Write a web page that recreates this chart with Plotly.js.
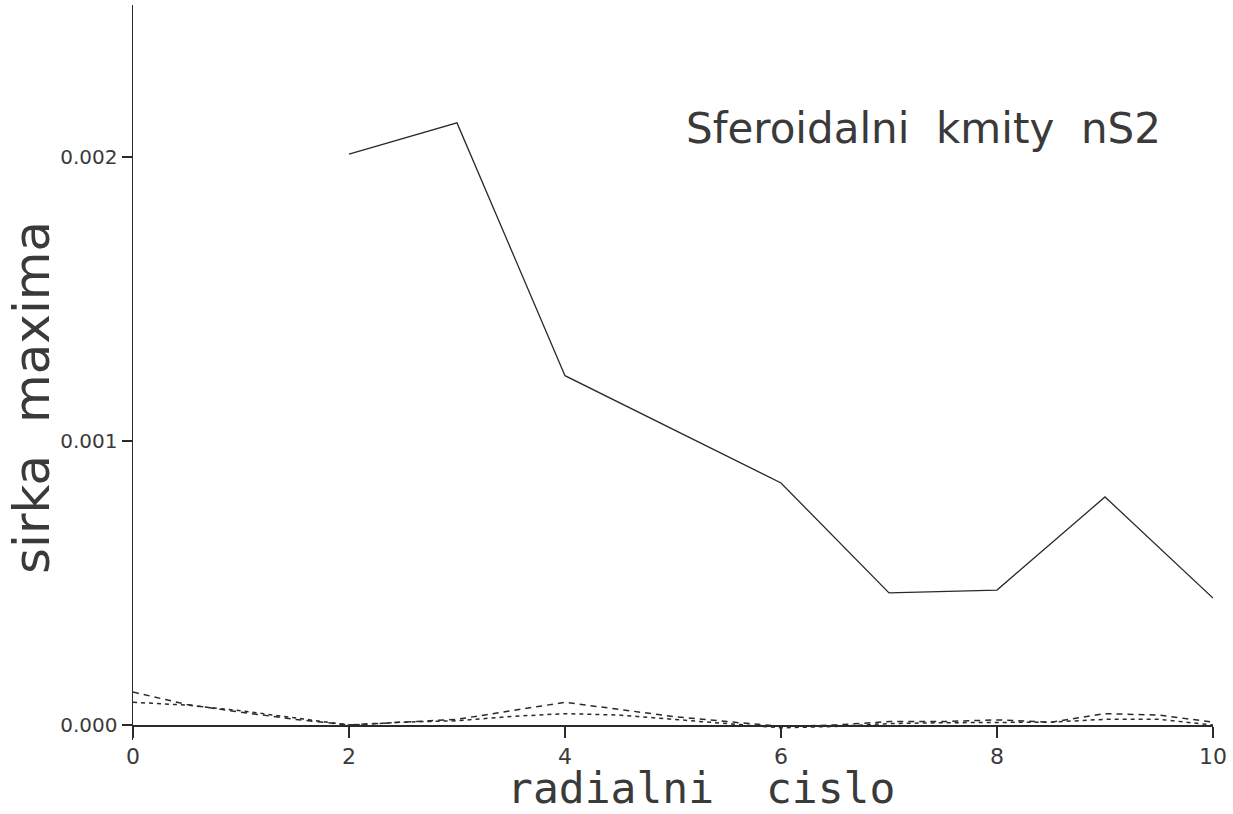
<!DOCTYPE html>
<html>
<head>
<meta charset="utf-8">
<script src="https://cdn.plot.ly/plotly-3.0.1.min.js"></script>
<style>
  html, body { margin: 0; padding: 0; background: #fff; }
  #chart { width: 1233px; height: 814px; }
</style>
</head>
<body>
<div id="chart"></div>
<script>
// Spheroidal modes nS2: width of the maximum versus radial number
const radialN = [2, 3, 4, 5, 6, 7, 8, 9, 10];
const maxWidth = [0.00201, 0.00212, 0.00123, 0.00104, 0.000852, 0.000465, 0.000475, 0.000803, 0.000447];

// Two small companion series, sampled on half steps
const fineN = [0, 0.5, 1, 1.5, 2, 2.5, 3, 3.5, 4, 4.5, 5, 5.5, 6, 6.5, 7, 7.5, 8, 8.5, 9, 9.5, 10];
const seriesA = [0.000116, 0.000072, 0.000045, 0.000020, 0.000000, 0.000010, 0.000020, 0.000050, 0.000080,
                 0.000055, 0.000030, 0.000012, -0.000005, 0.000000, 0.000012, 0.000012, 0.000018, 0.000010,
                 0.000040, 0.000035, 0.000010];
const seriesB = [0.000080, 0.000070, 0.000050, 0.000025, 0.000000, 0.000010, 0.000015, 0.000030, 0.000040,
                 0.000035, 0.000020, 0.000005, -0.000010, -0.000005, 0.000005, 0.000008, 0.000010, 0.000010,
                 0.000020, 0.000020, 0.000000];

const xTickVals = [0, 2, 4, 6, 8, 10];
const xTickText = ['0', '2', '4', '6', '8', '10'];
const yTickVals = [0, 0.001, 0.002];
const yTickText = ['0.000', '0.001', '0.002'];

const titleText = 'Sferoidalni  kmity  nS2';
const xTitleText = 'radialni  cislo';
const yTitleText = 'sirka  maxima';

const ink = '#2a2a2a';
const textInk = '#3a3a3a';
const fontFam = 'DejaVu Sans, sans-serif';
const monoFam = 'DejaVu Sans Mono, monospace';

const traces = [
  {
    x: radialN, y: maxWidth, type: 'scatter', mode: 'lines',
    line: { color: ink, width: 1.3 }, hoverinfo: 'skip'
  },
  {
    x: fineN, y: seriesA, type: 'scatter', mode: 'lines',
    line: { color: ink, width: 1.5, dash: '6px,5px' }, hoverinfo: 'skip'
  },
  {
    x: fineN, y: seriesB, type: 'scatter', mode: 'lines',
    line: { color: ink, width: 1.5, dash: '4px,4px' }, hoverinfo: 'skip'
  }
];

// plot area spans y = 5..740 px; value 0 sits 15 px above its bottom
const yMin = -0.0000528, yMax = 0.002535;
const zeroFrac = (0 - yMin) / (yMax - yMin);

// pixel -> paper helpers for the free-floating labels
const px = (x) => (x - 133) / 1080;
const py = (y) => (740 - y) / 735;

const layout = {
  width: 1233, height: 814,
  margin: { l: 133, r: 20, t: 5, b: 74 },
  paper_bgcolor: '#fff', plot_bgcolor: '#fff',
  showlegend: false,
  xaxis: {
    range: [0, 10], anchor: 'free', position: zeroFrac,
    showgrid: false, zeroline: false,
    showline: true, linecolor: ink, linewidth: 1.5,
    ticks: 'outside', ticklen: 11, tickwidth: 1.5, tickcolor: ink,
    tickvals: xTickVals, ticktext: xTickText,
    tickfont: { family: fontFam, size: 22, color: textInk }
  },
  yaxis: {
    range: [yMin, yMax],
    showgrid: false, zeroline: false,
    showline: true, linecolor: ink, linewidth: 1.5,
    ticks: 'outside', ticklen: 10, tickwidth: 1.5, tickcolor: ink,
    tickvals: yTickVals, ticktext: yTickText,
    tickfont: { family: fontFam, size: 20, color: textInk }
  },
  annotations: [
    {
      text: titleText, xref: 'paper', yref: 'paper',
      x: px(923), y: py(128),
      xanchor: 'center', yanchor: 'middle', showarrow: false,
      font: { family: fontFam, size: 42, color: textInk }
    },
    {
      text: xTitleText, xref: 'paper', yref: 'paper',
      x: px(701), y: py(788),
      xanchor: 'center', yanchor: 'middle', showarrow: false,
      font: { family: monoFam, size: 43, color: textInk }
    },
    {
      text: yTitleText, xref: 'paper', yref: 'paper',
      x: px(32), y: py(398),
      xanchor: 'center', yanchor: 'middle', showarrow: false, textangle: -90,
      font: { family: fontFam, size: 50, color: textInk }
    }
  ]
};

Plotly.newPlot('chart', traces, layout, { staticPlot: true, displayModeBar: false });
</script>
</body>
</html>
